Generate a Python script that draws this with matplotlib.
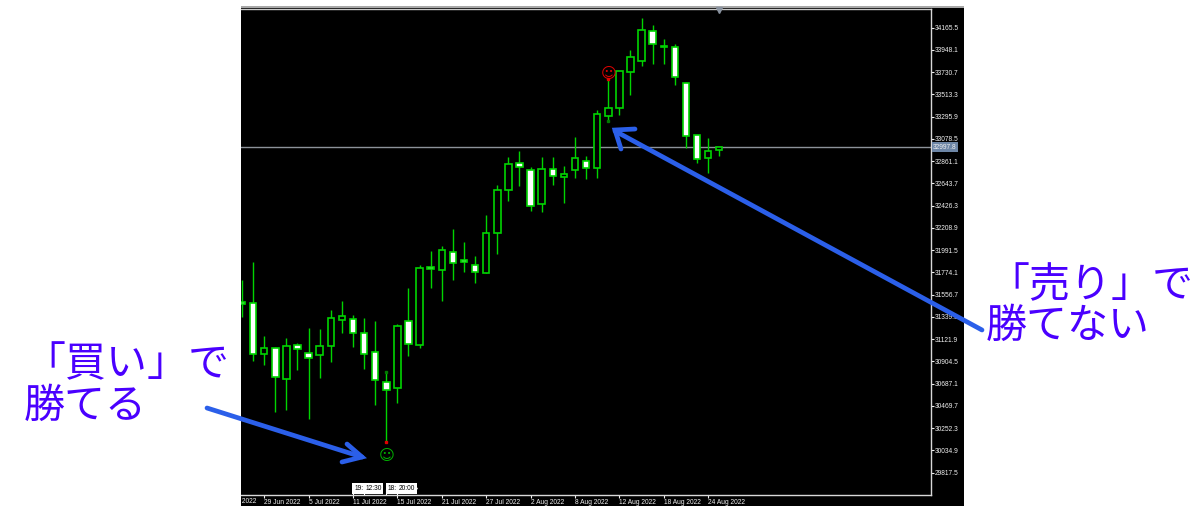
import numpy as np
import matplotlib
matplotlib.use('Agg')
import matplotlib.pyplot as plt
from matplotlib.lines import Line2D
from matplotlib.patches import Rectangle, Polygon

# daily candles, 27 Jun 2022 - 25 Aug 2022
opens = [31488, 31473, 30977, 31033, 30730, 31065, 30984, 30970, 31058, 31310, 31316,
         31180, 30997, 30704, 30642, 31303, 31068, 31824, 31798, 31971, 31893, 31847,
         31772, 32164, 32580, 32841, 32778, 32446, 32785, 32710, 32778, 32866, 32790,
         33306, 33384, 33730, 33843, 34130, 33980, 33980, 33622, 33117, 32895, 32974]
highs = [31700, 31873, 31156, 31046, 31131, 31082, 31228, 31219, 31404, 31495, 31358,
         31332, 31300, 30804, 31270, 31619, 31847, 31984, 32033, 32196, 32075, 31935,
         32335, 32629, 32902, 32961, 32807, 32902, 32899, 32814, 33098, 32912, 33361,
         33664, 33740, 33948, 34263, 34192, 34055, 34006, 33638, 33117, 33088, 32998]
lows = [31342, 30912, 30870, 30413, 30430, 30821, 30339, 30746, 30902, 31185, 31046,
        30834, 30479, 30120, 30501, 30955, 31036, 31625, 31498, 31700, 31779, 31674,
        31772, 31954, 32472, 32622, 32375, 32365, 32629, 32456, 32694, 32687, 32694,
        33257, 33313, 33508, 33791, 33814, 33811, 33606, 32993, 32847, 32749, 32915]
closes = [31469, 30977, 31033, 30752, 31058, 31026, 30935, 31058, 31332, 31352, 31180,
          30977, 30720, 30626, 31248, 31072, 31821, 31805, 31991, 31866, 31873, 31779,
          32160, 32583, 32831, 32807, 32423, 32785, 32717, 32739, 32889, 32792, 33319,
          33378, 33740, 33876, 34146, 34009, 33990, 33681, 33104, 32886, 32961, 32998]

price_ticks = [29817.5, 30034.9, 30252.3, 30469.7, 30687.1, 30904.5, 31121.9, 31339.3,
               31556.7, 31774.1, 31991.5, 32208.9, 32426.3, 32643.7, 32861.1, 33078.5,
               33295.9, 33513.3, 33730.7, 33948.1, 34165.5]
date_idx = [-2, 2, 6, 10, 14, 18, 22, 26, 30, 34, 38, 42]
date_labels = ['23 Jun 2022', '29 Jun 2022', '5 Jul 2022', '11 Jul 2022', '15 Jul 2022',
               '21 Jul 2022', '27 Jul 2022', '2 Aug 2022', '8 Aug 2022', '12 Aug 2022',
               '18 Aug 2022', '24 Aug 2022']
last_price = 32997.8
time_idx = [10, 11, 13, 14]
time_labels = ['19:', '12:30', '18:', '20:00']
buy_idx, buy_price, buy_dot = 13, 29990, 30120
sell_idx, sell_price, sell_dot = 33, 33720, 33664

W, H = 1200, 515
GREEN = '#00d400'
AXC = '#f0f0f0'
LABEL_SIZE = 4.8


def px(x, y):  # reference pixels -> figure coords
    return x / W, 1 - y / H


fig = plt.figure(figsize=(W / 100, H / 100), dpi=100, facecolor='white')

# black chart window and the grey band on top of it
panel = Rectangle(px(241, 506), 723 / W, 498 / H, transform=fig.transFigure,
                  fc='black', ec='none', zorder=-2)
fig.add_artist(panel)
fig.add_artist(Rectangle(px(241, 8), 723 / W, 2.5 / H, transform=fig.transFigure,
                         fc='#a8a8a8', ec='none', zorder=-2))

ax = fig.add_axes([241 / W, 1 - 495 / H, 689.5 / W, 486 / H], facecolor='black')
ax.set_xlim(-0.09, 62.03)
ax.set_ylim(29599.6, 34348.3)

x = np.arange(len(opens))
o, h, l, c = map(np.array, (opens, highs, lows, closes))
bull = c >= o

ax.vlines(x, l, h, color=GREEN, lw=1.0, zorder=2)
ax.bar(x[bull], np.abs(c - o)[bull], bottom=np.minimum(o, c)[bull], width=0.58,
       color='black', edgecolor=GREEN, linewidth=1.2, zorder=3)
ax.bar(x[~bull], np.abs(c - o)[~bull], bottom=np.minimum(o, c)[~bull], width=0.58,
       color='white', edgecolor=GREEN, linewidth=1.2, zorder=3)

ax.axhline(last_price, color='#8c9299', lw=1.0, zorder=1)
ax.plot(43, 34335, marker='v', color='#8a93a0', ms=5, clip_on=False, zorder=4)

# signal marks
ax.plot([buy_idx, sell_idx], [buy_dot, sell_dot], 's', color='#e00000', ms=1.8, zorder=4)
ax.plot([buy_idx, sell_idx], [highs[buy_idx], lows[sell_idx]], 's', color='#007a00', ms=1.8, zorder=4)
ax.text(buy_idx, buy_price, '\u263a', color='#00b000', fontsize=11, family='DejaVu Sans',
        ha='center', va='center', zorder=5)
ax.text(sell_idx, sell_price, '\u263a', color='#e00000', fontsize=11, family='DejaVu Sans',
        ha='center', va='center', zorder=5)

# axes
for s in ('left', 'top'):
    ax.spines[s].set_visible(False)
for s in ('right', 'bottom'):
    ax.spines[s].set_color('#d8d8d8')
    ax.spines[s].set_linewidth(1.0)
ax.yaxis.tick_right()
ax.set_yticks(price_ticks)
ax.set_yticklabels(['%.1f' % p for p in price_ticks])
ax.tick_params(axis='y', colors=AXC, length=2.5, width=0.8, pad=0.4, labelsize=LABEL_SIZE,
               labelfontfamily='Liberation Sans')
ax.set_xticks(date_idx[1:])
ax.set_xticklabels(date_labels[1:], ha='left')
ax.tick_params(axis='x', colors=AXC, length=2.5, width=0.8, pad=0.6, labelsize=LABEL_SIZE,
               labelfontfamily='Liberation Sans')
ax.plot([-0.09, 62.03], [34348.3, 34348.3], color='#c8c8c8', lw=1.0, clip_on=False, zorder=1)

# date cut off by the left edge of the window
cut = ax.text(date_idx[0], -0.0125, date_labels[0], color=AXC, fontsize=LABEL_SIZE, family='Liberation Sans',
              transform=ax.get_xaxis_transform(), ha='left', va='center', clip_on=True)
cut.set_clip_path(Rectangle(px(241, 515), 723 / W, 1, transform=fig.transFigure))

# price tag for the last price
ax.text(1.0035, last_price, '%.1f' % last_price, transform=ax.get_yaxis_transform(), color='#f0f0f0',
        fontsize=LABEL_SIZE, family='Liberation Sans', va='center', ha='left',
        bbox=dict(fc='#6d86a6', ec='none', pad=1.0), clip_on=False, zorder=6)

# crosshair time tags
box_y = 29663
for i, lab in zip(time_idx, time_labels):
    ax.vlines(i, 29599.6, box_y, color='white', lw=0.8, zorder=4)
    ax.text(i + 0.1, box_y, lab, color='black', fontsize=LABEL_SIZE, family='Liberation Sans', va='center', ha='left',
            bbox=dict(boxstyle='square,pad=0.25', fc='white', ec='none'), zorder=5)
tip = Polygon([[15.3, 29700], [15.6, 29700], [15.85, 29663], [15.6, 29626], [15.3, 29626]],
              fc='white', ec='none', zorder=4)
ax.add_patch(tip)

# blue arrows
BLUE = '#2b5fe9'
arrows = [
    [[(207, 408), (362, 457)], [(347, 444), (362, 457), (342, 462)]],
    [[(982, 330), (615, 131)], [(635, 129), (615, 130), (621, 149)]],
]
for shaft, head in arrows:
    for seg in (shaft, head):
        xs, ys = zip(*[px(*p) for p in seg])
        fig.add_artist(Line2D(xs, ys, transform=fig.transFigure, color=BLUE, lw=3.4,
                              solid_capstyle='round', solid_joinstyle='miter', zorder=8))

# captions
TXT = '#4a00ff'
cap = dict(color=TXT, fontsize=29.5, family=['Noto Sans CJK JP', 'DejaVu Sans'], va='center', ha='left', zorder=9)
for (tx, ty), s in [((24, 365), '「買い」で'), ((24, 406), '勝てる'),
                    ((988, 286), '「売り」で'), ((986, 326), '勝てない')]:
    fig.text(*px(tx, ty), s, **cap)

fig.savefig('out.png', dpi=100, facecolor='white')
